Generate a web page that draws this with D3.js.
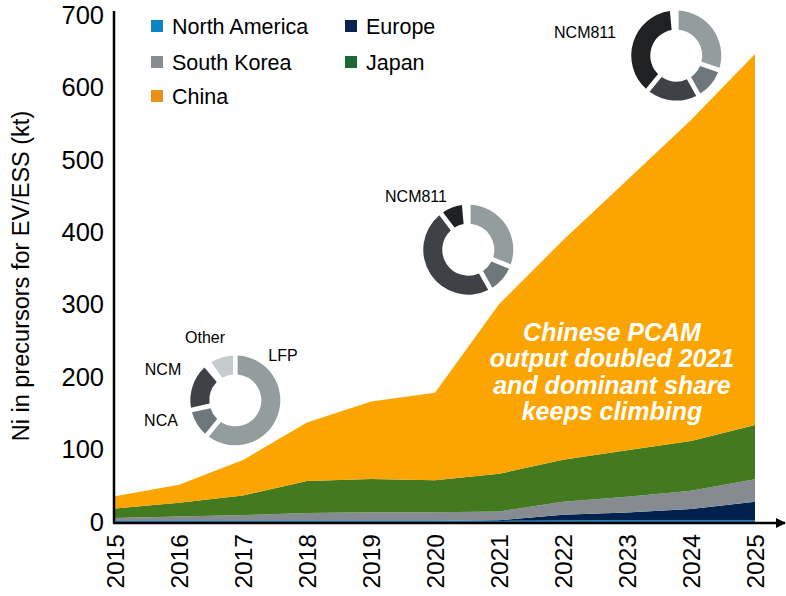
<!DOCTYPE html>
<html>
<head>
<meta charset="utf-8">
<script src="https://cdn.jsdelivr.net/npm/d3@7"></script>
<style>
  body { margin: 0; background: #fff; }
  text { font-family: "Liberation Sans", Arial, sans-serif; }
</style>
</head>
<body>
<div id="chart"></div>
<script>
// values (kt Ni)
const years = [2015, 2016, 2017, 2018, 2019, 2020, 2021, 2022, 2023, 2024, 2025];
const northAmerica = [1.5, 1.5, 1.5, 1.5, 1.5, 1.5, 1.5, 2, 2, 2, 2];
const europe = [0, 0, 0, 0, 0, 0, 1, 8, 11, 16, 26];
const southKorea = [4, 6, 8, 11, 12, 12, 12, 18, 22, 25, 31];
const japan = [13, 19, 27, 44, 46, 44, 52, 58, 64, 69, 75];
const china = [17, 25, 49, 81, 107, 121, 234, 303, 373, 443, 512];

const seriesNames = ["North America", "Europe", "South Korea", "Japan", "China"];
const seriesColors = ["#0c87cf", "#00204e", "#858b91", "#437a1f", "#fca400"];
const legendColors = ["#0a84c6", "#0b2150", "#888c90", "#1b6a36", "#ea9018"];

const yTicks = [0, 100, 200, 300, 400, 500, 600, 700];

// cathode chemistry donuts (shares, %)
const chemNames = ["LFP", "NCA", "NCM", "NCM811", "Other"];
const chemColors = ["#949d9e", "#6e777b", "#3e4246", "#1f2123", "#c5cbcd"];
const donut2016 = [64, 10, 17, 0, 9];
const donut2020 = [32, 10, 50, 8, 0];
const donut2024 = [31, 11, 19, 39, 0];

const width = 786;
const height = 596;

const svg = d3.select("#chart")
              .append("svg")
              .attr("width", width)
              .attr("height", height);

const x = d3.scaleLinear().domain([2015, 2025]).range([115, 755]);
const y = d3.scaleLinear().domain([0, 700]).range([522, 15]);

const table = years.map((yr, i) => ({
  year: yr,
  "North America": northAmerica[i],
  "Europe": europe[i],
  "South Korea": southKorea[i],
  "Japan": japan[i],
  "China": china[i]
}));

const stacked = d3.stack().keys(seriesNames)(table);

const area = d3.area()
               .x(d => x(d.data.year))
               .y0(d => y(d[0]))
               .y1(d => y(d[1]));

svg.append("g")
   .selectAll("path")
   .data(stacked)
   .enter().append("path")
     .attr("d", area)
     .attr("fill", (d, i) => seriesColors[i]);

// axes
const yAxis = d3.axisLeft(y).tickValues(yTicks).tickSize(0).tickPadding(10);
svg.append("g")
   .attr("transform", "translate(114,0)")
   .call(yAxis)
   .call(g => g.select(".domain").remove())
   .selectAll("text")
     .attr("font-size", 25.5)
     .attr("fill", "#000")
     .style("font-family", "Liberation Sans, Arial, sans-serif");

const xAxis = d3.axisBottom(x).tickValues(years).tickFormat(d3.format("d")).tickSize(0);
svg.append("g")
   .attr("transform", "translate(0,523)")
   .call(xAxis)
   .call(g => g.select(".domain").remove())
   .selectAll("text")
     .attr("font-size", 24.5)
     .attr("fill", "#000")
     .style("font-family", "Liberation Sans, Arial, sans-serif")
     .attr("text-anchor", "end")
     .attr("dy", "0.35em")
     .attr("transform", "translate(0,11) rotate(-90)")
     .attr("x", 0)
     .attr("y", 0);

svg.append("line")
   .attr("x1", 114).attr("x2", 114)
   .attr("y1", 11).attr("y2", 523)
   .attr("stroke", "#000").attr("stroke-width", 2.5);

svg.append("defs").append("marker")
   .attr("id", "arrow")
   .attr("viewBox", "0 0 10 10")
   .attr("refX", 9).attr("refY", 5)
   .attr("markerWidth", 4).attr("markerHeight", 4)
   .attr("markerUnits", "strokeWidth")
   .attr("orient", "auto")
   .append("path")
     .attr("d", "M0,0 L10,5 L0,10 z")
     .attr("fill", "#000");

svg.append("line")
   .attr("x1", 113).attr("x2", 785)
   .attr("y1", 523).attr("y2", 523)
   .attr("stroke", "#000").attr("stroke-width", 2.5)
   .attr("marker-end", "url(#arrow)");

// y title
svg.append("text")
   .attr("transform", "translate(29,276) rotate(-90)")
   .attr("text-anchor", "middle")
   .attr("font-size", 23.5)
   .text("Ni in precursors for EV/ESS (kt)");

// legend
const legend = svg.append("g");
const legendPos = [[151, 26], [345, 26], [151, 62], [345, 62], [151, 96]];
seriesNames.forEach((name, i) => {
  const g = legend.append("g")
                  .attr("transform", `translate(${legendPos[i][0]},${legendPos[i][1]})`);
  g.append("rect")
   .attr("x", 0).attr("y", -6)
   .attr("width", 12).attr("height", 12)
   .attr("fill", legendColors[i]);
  g.append("text")
   .attr("x", 21).attr("y", 7.5)
   .attr("font-size", 21.5)
   .text(name);
});

// annotation
const note = ["Chinese PCAM", "output doubled 2021", "and dominant share", "keeps climbing"];
svg.append("text")
   .attr("x", 612)
   .attr("y", 341)
   .attr("text-anchor", "middle")
   .attr("font-size", 25)
   .attr("font-weight", "bold")
   .attr("font-style", "italic")
   .attr("fill", "#fff")
   .selectAll("tspan")
   .data(note)
   .enter().append("tspan")
     .attr("x", 612)
     .attr("dy", (d, i) => i === 0 ? 0 : 26.3)
     .text(d => d);

// donuts
const pie = d3.pie().sort(null).value(d => d).padAngle(0.09);
const arc = d3.arc().innerRadius(26).outerRadius(45);

function drawDonut(values, cx, cy) {
  svg.append("g")
     .attr("transform", `translate(${x(cx)},${y(cy)})`)
     .selectAll("path")
     .data(pie(values))
     .enter().append("path")
       .filter(d => d.value > 0)
       .attr("d", arc)
       .attr("fill", d => chemColors[d.index]);
}

drawDonut(donut2016, 2016.88, 168);
drawDonut(donut2020, 2020.52, 376);
drawDonut(donut2024, 2023.77, 644);

const donutLabels = [
  ["Other", 205, 343],
  ["LFP", 283, 361],
  ["NCM", 163, 375],
  ["NCA", 161, 426],
  ["NCM811", 416, 202],
  ["NCM811", 585, 38]
];
svg.append("g")
   .selectAll("text")
   .data(donutLabels)
   .enter().append("text")
     .attr("x", d => d[1])
     .attr("y", d => d[2])
     .attr("text-anchor", "middle")
     .attr("font-size", 16)
     .text(d => d[0]);
</script>
</body>
</html>
